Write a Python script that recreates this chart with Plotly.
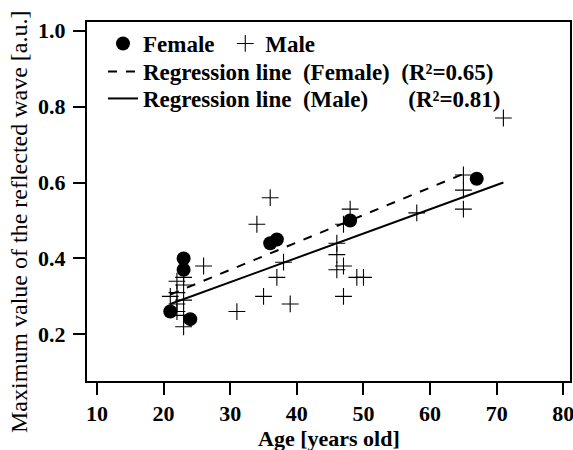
import plotly.graph_objects as go

# ---- data ----
female_age = [21, 23, 23, 24, 36, 37, 48, 67]
female_val = [0.26, 0.40, 0.37, 0.24, 0.44, 0.45, 0.50, 0.61]

male_age = [21, 22, 22, 22, 22, 23, 23, 23, 23, 23, 26, 31, 34, 35, 36, 37, 38, 39,
            46, 46, 46, 47, 47, 47, 48, 49, 50, 58, 65, 65, 65, 71]
male_val = [0.30, 0.34, 0.31, 0.28, 0.26, 0.35, 0.33, 0.29, 0.25, 0.22, 0.38, 0.26,
            0.49, 0.30, 0.56, 0.35, 0.39, 0.28, 0.44, 0.41, 0.37, 0.38, 0.49, 0.30,
            0.53, 0.35, 0.35, 0.52, 0.62, 0.58, 0.53, 0.77]

reg_female_x = [21, 66]
reg_female_y = [0.305, 0.63]
reg_male_x = [21, 71]
reg_male_y = [0.28, 0.60]

x_ticks = [10, 20, 30, 40, 50, 60, 70, 80]
y_ticks = [0.2, 0.4, 0.6, 0.8, 1.0]
y_tick_text = ["0.2", "0.4", "0.6", "0.8", "1.0"]

SERIF = "Liberation Serif"
NB = "\u00a0"
LEG_FONT = dict(family=SERIF, size=23, color="black", weight="bold")

# plot area in pixels
W, H = 573, 450
L, R, T, B = 87, 3, 22, 69
PH = H - T - B


def py(px):  # pixel row -> paper y
    return (H - B - px) / PH


def px_(p):  # pixel col -> paper x
    return (p - L) / (W - L - R)


fig = go.Figure()
fig.add_trace(go.Scatter(
    x=female_age, y=female_val, mode="markers", name="Female" + NB,
    marker=dict(symbol="circle", size=14, color="black"), legend="legend",
))
fig.add_trace(go.Scatter(
    x=male_age, y=male_val, mode="markers", name="Male",
    marker=dict(symbol="cross-thin-open", size=12, color="black",
                line=dict(width=1.1, color="black")), legend="legend",
))
fig.add_trace(go.Scatter(
    x=reg_female_x, y=reg_female_y, mode="lines",
    name="Regression line" + NB * 2 + "(Female)" + NB * 2 + "(R²=0.65)",
    line=dict(color="black", width=2, dash="dash"), legend="legend2",
))
fig.add_trace(go.Scatter(
    x=reg_male_x, y=reg_male_y, mode="lines",
    name="Regression line" + NB * 2 + "(Male)" + NB * 7 + "(R²=0.81)",
    line=dict(color="black", width=2), legend="legend3",
))

leg_common = dict(xanchor="left", yanchor="top", bgcolor="rgba(0,0,0,0)",
                  borderwidth=0, font=LEG_FONT, itemsizing="trace")

fig.update_layout(
    width=W, height=H,
    margin=dict(l=L, r=R, t=T, b=B),
    paper_bgcolor="white", plot_bgcolor="white",
    font=dict(family=SERIF, color="black"),
    showlegend=True,
    legend=dict(orientation="h", x=px_(103), y=py(22), **leg_common),
    legend2=dict(orientation="v", x=px_(103), y=py(50), **leg_common),
    legend3=dict(orientation="v", x=px_(103), y=py(77), **leg_common),
    xaxis=dict(
        range=[8.5, 81.0], tickvals=x_ticks, ticks="outside", ticklen=12,
        tickwidth=1.5, tickcolor="black", showline=True, linecolor="black",
        linewidth=2, mirror=True, showgrid=False, zeroline=False,
        automargin=False, ticklabeloverflow="allow",
        tickfont=dict(family=SERIF, size=22, color="black", weight="bold"),
    ),
    yaxis=dict(
        range=[0.077, 1.023], tickvals=y_ticks, ticktext=y_tick_text,
        ticks="outside", ticklen=12, tickwidth=1.5, tickcolor="black",
        showline=True, linecolor="black", linewidth=2, mirror=True,
        showgrid=False, zeroline=False, automargin=False, ticklabelstandoff=3,
        ticklabeloverflow="allow",
        tickfont=dict(family=SERIF, size=22, color="black", weight="bold"),
    ),
    annotations=[
        dict(text="Maximum value of the reflected wave [a.u.]",
             textangle=-90, xref="paper", yref="paper",
             x=px_(19), y=py(9), xanchor="center", yanchor="top",
             showarrow=False, font=dict(family=SERIF, size=24, color="black")),
        dict(text="Age [years old]", xref="paper", yref="paper",
             x=0.5, y=py(438), xanchor="center", yanchor="middle",
             showarrow=False,
             font=dict(family=SERIF, size=22, color="black", weight="bold")),
    ],
)

fig.write_html(
    "out.html",
    config={"displayModeBar": False},
    post_script="document.body.style.margin='0px';"
                "document.body.style.overflow='hidden';",
)
